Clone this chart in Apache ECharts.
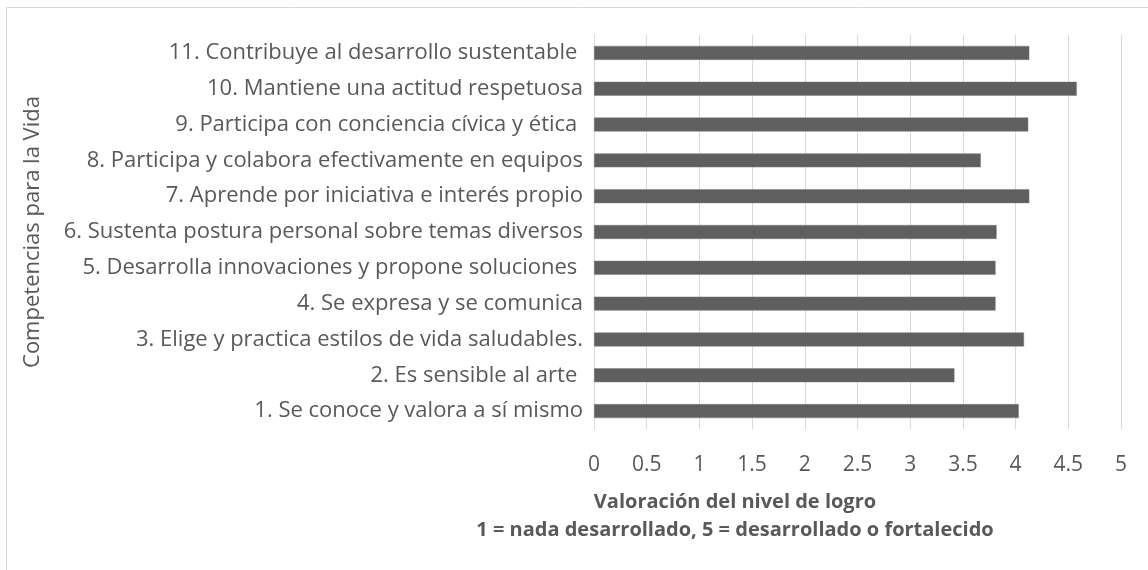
<!DOCTYPE html>
<html>
<head>
<meta charset="utf-8">
<script src="https://cdn.jsdelivr.net/npm/echarts@6/dist/echarts.min.js"></script>
<style>
html,body{margin:0;padding:0;background:#fff;}
#chart{width:1148px;height:570px;}
</style>
</head>
<body>
<div id="chart"></div>
<script>
const categories = [
  "1. Se conoce y valora a sí mismo",
  "2. Es sensible al arte ",
  "3. Elige y practica estilos de vida saludables.",
  "4. Se expresa y se comunica",
  "5. Desarrolla innovaciones y propone soluciones ",
  "6. Sustenta postura personal sobre temas diversos",
  "7. Aprende por iniciativa e interés propio",
  "8. Participa y colabora efectivamente en equipos",
  "9. Participa con conciencia cívica y ética ",
  "10. Mantiene una actitud respetuosa",
  "11. Contribuye al desarrollo sustentable "
];
const values = [4.03, 3.42, 4.08, 3.81, 3.81, 3.82, 4.13, 3.67, 4.12, 4.58, 4.13];
const xAxisTitle = "Valoración del nivel de logro";
const xAxisSubtitle = "1 = nada desarrollado, 5 = desarrollado o fortalecido";
const yAxisTitle = "Competencias para la Vida";

const FONT = "'Open Sans', sans-serif";
const chart = echarts.init(document.getElementById('chart'), null, {renderer: 'canvas'});
chart.setOption({
  animation: false,
  backgroundColor: '#ffffff',
  title: {
    text: xAxisTitle + '\n' + xAxisSubtitle,
    left: 730,
    top: 483,
    textAlign: 'center',
    textStyle: {
      fontFamily: FONT, fontSize: 20, fontWeight: 'bold', color: '#595959', lineHeight: 28
    }
  },
  graphic: [{
    type: 'rect',
    shape: {x: 6.5, y: 7.5, width: 1200, height: 600},
    style: {fill: 'none', stroke: '#d9d9d9', lineWidth: 1},
    silent: true
  }],
  grid: {left: 594, right: 27, top: 35, bottom: 141, containLabel: false},
  xAxis: {
    type: 'value', min: 0, max: 5, interval: 0.5,
    axisLine: {show: false}, axisTick: {show: false},
    splitLine: {show: true, lineStyle: {color: '#d9d9d9', width: 1}},
    axisLabel: {color: '#595959', fontFamily: FONT, fontSize: 21, margin: 26}
  },
  yAxis: {
    type: 'category', data: categories,
    name: yAxisTitle, nameLocation: 'middle', nameGap: 550,
    nameTextStyle: {color: '#595959', fontFamily: FONT, fontSize: 22},
    axisLine: {show: true, lineStyle: {color: '#d9d9d9'}},
    axisTick: {show: false},
    axisLabel: {color: '#595959', fontFamily: FONT, fontSize: 22, margin: 11}
  },
  series: [{
    type: 'bar', data: values, barWidth: '39%',
    itemStyle: {color: '#5f5f5f', borderColor: '#7f7f7f', borderWidth: 0.5}
  }]
});
</script>
</body>
</html>
